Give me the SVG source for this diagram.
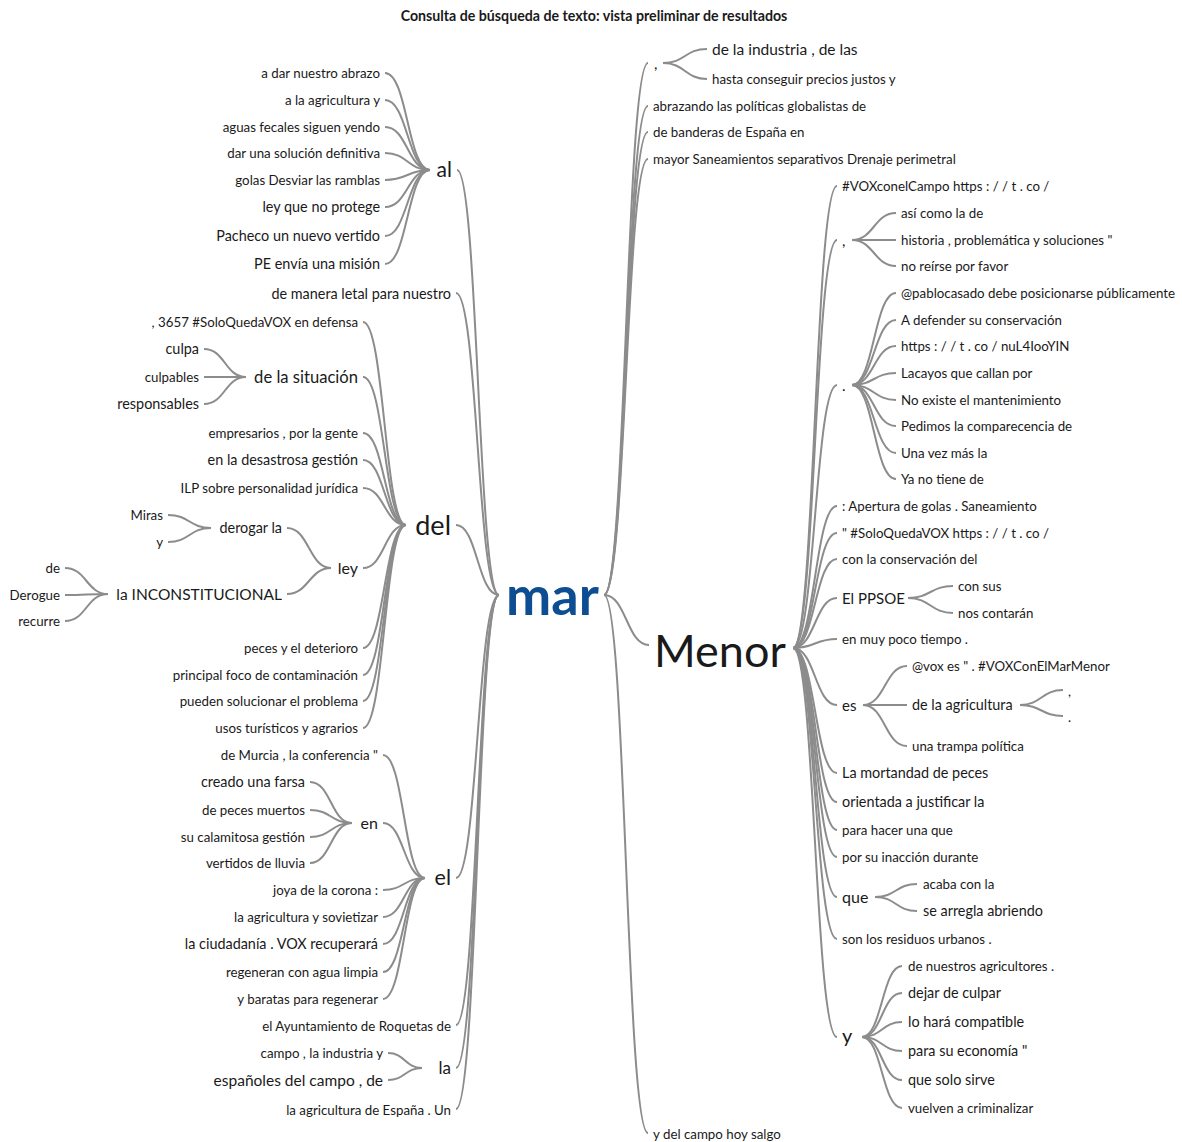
<svg xmlns="http://www.w3.org/2000/svg" width="1182" height="1142" viewBox="0 0 1182 1142">
<style>
text { font-family: Lato, "Noto Sans", "Liberation Sans", sans-serif; fill: #1a1a1a; }
.e { text-anchor: end; }
.s12 { font-size: 13.3px; }
.s125 { font-size: 13.3px; }
.s13 { font-size: 14.4px; }
.s135 { font-size: 14.4px; }
.s14 { font-size: 14.4px; }
.s15 { font-size: 15px; }
.s155 { font-size: 15.5px; }
.s16 { font-size: 16px; }
.s20 { font-size: 20px; }
.title { font-size: 14.2px; font-weight: bold; text-anchor: middle; }
#connectors path { fill: none; stroke: #8c8c8c; stroke-width: 2; }
</style>
<rect width="1182" height="1142" fill="#ffffff"/>
<text class="title" x="594" y="21">Consulta de búsqueda de texto: vista preliminar de resultados</text>
<g id="connectors">
<path d="M457 170 C478 170 478 595 499 595"/>
<path d="M456 293 C477.5 293 477.5 595 499 595"/>
<path d="M456 525 C477.5 525 477.5 595 499 595"/>
<path d="M456 878 C477.5 878 477.5 595 499 595"/>
<path d="M456 1025 C477.5 1025 477.5 595 499 595"/>
<path d="M456 1068 C477.5 1068 477.5 595 499 595"/>
<path d="M456 1109 C477.5 1109 477.5 595 499 595"/>
<path d="M385 73 C407.5 73 407.5 170 430 170"/>
<path d="M385 100 C407.5 100 407.5 170 430 170"/>
<path d="M385 127 C407.5 127 407.5 170 430 170"/>
<path d="M385 153 C407.5 153 407.5 170 430 170"/>
<path d="M385 180 C407.5 180 407.5 170 430 170"/>
<path d="M385 207 C407.5 207 407.5 170 430 170"/>
<path d="M385 236 C407.5 236 407.5 170 430 170"/>
<path d="M385 264 C407.5 264 407.5 170 430 170"/>
<path d="M363 322 C384.5 322 384.5 525 406 525"/>
<path d="M363 377 C384.5 377 384.5 525 406 525"/>
<path d="M363 433 C384.5 433 384.5 525 406 525"/>
<path d="M363 460 C384.5 460 384.5 525 406 525"/>
<path d="M363 488 C384.5 488 384.5 525 406 525"/>
<path d="M363 568 C384.5 568 384.5 525 406 525"/>
<path d="M363 648 C384.5 648 384.5 525 406 525"/>
<path d="M363 675 C384.5 675 384.5 525 406 525"/>
<path d="M363 701 C384.5 701 384.5 525 406 525"/>
<path d="M363 728 C384.5 728 384.5 525 406 525"/>
<path d="M204 349 C225 349 225 377 246 377"/>
<path d="M204 377 C225 377 225 377 246 377"/>
<path d="M204 404 C225 404 225 377 246 377"/>
<path d="M287 528 C309 528 309 568 331 568"/>
<path d="M287 594 C309 594 309 568 331 568"/>
<path d="M168 515 C189.5 515 189.5 528 211 528"/>
<path d="M168 542 C189.5 542 189.5 528 211 528"/>
<path d="M65 568 C86.5 568 86.5 594 108 594"/>
<path d="M65 595 C86.5 595 86.5 594 108 594"/>
<path d="M65 621 C86.5 621 86.5 594 108 594"/>
<path d="M383 755 C404 755 404 878 425 878"/>
<path d="M383 823 C404 823 404 878 425 878"/>
<path d="M383 890 C404 890 404 878 425 878"/>
<path d="M383 917 C404 917 404 878 425 878"/>
<path d="M383 944 C404 944 404 878 425 878"/>
<path d="M383 972 C404 972 404 878 425 878"/>
<path d="M383 999 C404 999 404 878 425 878"/>
<path d="M310 782 C331 782 331 823 352 823"/>
<path d="M310 810 C331 810 331 823 352 823"/>
<path d="M310 837 C331 837 331 823 352 823"/>
<path d="M310 863 C331 863 331 823 352 823"/>
<path d="M388 1053 C405 1053 405 1068 422 1068"/>
<path d="M388 1080 C405 1080 405 1068 422 1068"/>
<path d="M604 595 C626 595 626 63 648 63"/>
<path d="M604 595 C626 595 626 106 648 106"/>
<path d="M604 595 C626 595 626 132 648 132"/>
<path d="M604 595 C626 595 626 159 648 159"/>
<path d="M604 595 C626.5 595 626.5 645 649 645"/>
<path d="M604 595 C626 595 626 1133 648 1133"/>
<path d="M663 63 C685 63 685 49 707 49"/>
<path d="M663 63 C685 63 685 79 707 79"/>
<path d="M793 648 C815 648 815 186 837 186"/>
<path d="M793 648 C815 648 815 240 837 240"/>
<path d="M793 648 C815 648 815 385 837 385"/>
<path d="M793 648 C815 648 815 506 837 506"/>
<path d="M793 648 C815 648 815 533 837 533"/>
<path d="M793 648 C815 648 815 559 837 559"/>
<path d="M793 648 C815 648 815 598 837 598"/>
<path d="M793 648 C815 648 815 639 837 639"/>
<path d="M793 648 C815 648 815 705 837 705"/>
<path d="M793 648 C815 648 815 773 837 773"/>
<path d="M793 648 C815 648 815 802 837 802"/>
<path d="M793 648 C815 648 815 830 837 830"/>
<path d="M793 648 C815 648 815 857 837 857"/>
<path d="M793 648 C815 648 815 897 837 897"/>
<path d="M793 648 C815 648 815 939 837 939"/>
<path d="M793 648 C815 648 815 1037 837 1037"/>
<path d="M852 240 C874 240 874 213 896 213"/>
<path d="M852 240 C874 240 874 240 896 240"/>
<path d="M852 240 C874 240 874 266 896 266"/>
<path d="M852 385 C874 385 874 293 896 293"/>
<path d="M852 385 C874 385 874 320 896 320"/>
<path d="M852 385 C874 385 874 346 896 346"/>
<path d="M852 385 C874 385 874 373 896 373"/>
<path d="M852 385 C874 385 874 400 896 400"/>
<path d="M852 385 C874 385 874 426 896 426"/>
<path d="M852 385 C874 385 874 453 896 453"/>
<path d="M852 385 C874 385 874 479 896 479"/>
<path d="M908 598 C930.5 598 930.5 586 953 586"/>
<path d="M908 598 C930.5 598 930.5 613 953 613"/>
<path d="M863 705 C885 705 885 666 907 666"/>
<path d="M863 705 C885 705 885 705 907 705"/>
<path d="M863 705 C885 705 885 746 907 746"/>
<path d="M1020 705 C1041.5 705 1041.5 690 1063 690"/>
<path d="M1020 705 C1041.5 705 1041.5 716 1063 716"/>
<path d="M875 897 C896 897 896 884 917 884"/>
<path d="M875 897 C896 897 896 911 917 911"/>
<path d="M862 1037 C882 1037 882 966 902 966"/>
<path d="M862 1037 C882 1037 882 993 902 993"/>
<path d="M862 1037 C882 1037 882 1022 902 1022"/>
<path d="M862 1037 C882 1037 882 1051 902 1051"/>
<path d="M862 1037 C882 1037 882 1080 902 1080"/>
<path d="M862 1037 C882 1037 882 1108 902 1108"/>
</g>
<g id="n-mar"><text x="506" y="615" style="font-size:54px;font-weight:bold;fill:#0d4d91">mar</text></g>
<g id="n-al"><text class="e" x="452" y="177" style="font-size:21px">al</text></g>
<g id="n-demanera"><text class="s13 e" x="451" y="299">de manera letal para nuestro</text></g>
<g id="n-del"><text class="e" x="451" y="535" style="font-size:27px">del</text></g>
<g id="n-el"><text class="e" x="451" y="885" style="font-size:21.5px">el</text></g>
<g id="n-elayunt"><text class="s125 e" x="451" y="1031">el Ayuntamiento de Roquetas de</text></g>
<g id="n-la"><text class="e" x="451" y="1074" style="font-size:17px">la</text></g>
<g id="n-laagric"><text class="s12 e" x="451" y="1115">la agricultura de España . Un</text></g>
<g id="n-al-1"><text class="s12 e" x="380" y="78">a dar nuestro abrazo</text></g>
<g id="n-al-2"><text class="s12 e" x="380" y="105">a la agricultura y</text></g>
<g id="n-al-3"><text class="s12 e" x="380" y="132">aguas fecales siguen yendo</text></g>
<g id="n-al-4"><text class="s12 e" x="380" y="158">dar una solución definitiva</text></g>
<g id="n-al-5"><text class="s12 e" x="380" y="185">golas Desviar las ramblas</text></g>
<g id="n-al-6"><text class="s13 e" x="380" y="212">ley que no protege</text></g>
<g id="n-al-7"><text class="s135 e" x="380" y="241">Pacheco un nuevo vertido</text></g>
<g id="n-al-8"><text class="s13 e" x="380" y="269">PE envía una misión</text></g>
<g id="n-del-1"><text class="s12 e" x="358" y="327">, 3657 #SoloQuedaVOX en defensa</text></g>
<g id="n-del-2"><text class="e" x="358" y="383" style="font-size:16.6px">de la situación</text></g>
<g id="n-del-3"><text class="s12 e" x="358" y="438">empresarios , por la gente</text></g>
<g id="n-del-4"><text class="s135 e" x="358" y="465">en la desastrosa gestión</text></g>
<g id="n-del-5"><text class="s12 e" x="358" y="493">ILP sobre personalidad jurídica</text></g>
<g id="n-del-6"><text class="s16 e" x="358" y="574">ley</text></g>
<g id="n-del-7"><text class="s12 e" x="358" y="653">peces y el deterioro</text></g>
<g id="n-del-8"><text class="s12 e" x="358" y="680">principal foco de contaminación</text></g>
<g id="n-del-9"><text class="s125 e" x="358" y="706">pueden solucionar el problema</text></g>
<g id="n-del-10"><text class="s12 e" x="358" y="733">usos turísticos y agrarios</text></g>
<g id="n-sit-1"><text class="s13 e" x="199" y="354">culpa</text></g>
<g id="n-sit-2"><text class="s12 e" x="199" y="382">culpables</text></g>
<g id="n-sit-3"><text class="s135 e" x="199" y="409">responsables</text></g>
<g id="n-ley-1"><text class="s14 e" x="282" y="533">derogar la</text></g>
<g id="n-ley-2"><text class="s155 e" x="282" y="600">la INCONSTITUCIONAL</text></g>
<g id="n-der-1"><text class="s12 e" x="163" y="520">Miras</text></g>
<g id="n-der-2"><text class="s12 e" x="163" y="547">y</text></g>
<g id="n-inc-1"><text class="s12 e" x="60" y="573">de</text></g>
<g id="n-inc-2"><text class="s125 e" x="60" y="600">Derogue</text></g>
<g id="n-inc-3"><text class="s12 e" x="60" y="626">recurre</text></g>
<g id="n-el-1"><text class="s12 e" x="378" y="760">de Murcia , la conferencia "</text></g>
<g id="n-el-2"><text class="s16 e" x="378" y="829">en</text></g>
<g id="n-el-3"><text class="s12 e" x="378" y="895">joya de la corona :</text></g>
<g id="n-el-4"><text class="s12 e" x="378" y="922">la agricultura y sovietizar</text></g>
<g id="n-el-5"><text class="s135 e" x="378" y="949">la ciudadanía . VOX recuperará</text></g>
<g id="n-el-6"><text class="s125 e" x="378" y="977">regeneran con agua limpia</text></g>
<g id="n-el-7"><text class="s125 e" x="378" y="1004">y baratas para regenerar</text></g>
<g id="n-en-1"><text class="s135 e" x="305" y="787">creado una farsa</text></g>
<g id="n-en-2"><text class="s12 e" x="305" y="815">de peces muertos</text></g>
<g id="n-en-3"><text class="s125 e" x="305" y="842">su calamitosa gestión</text></g>
<g id="n-en-4"><text class="s125 e" x="305" y="868">vertidos de lluvia</text></g>
<g id="n-la-1"><text class="s125 e" x="383" y="1058">campo , la industria y</text></g>
<g id="n-la-2"><text class="s155 e" x="383" y="1086">españoles del campo , de</text></g>
<g id="n-comma"><text class="s15" x="654" y="69">,</text></g>
<g id="n-abrazando"><text class="s12" x="653" y="111">abrazando las políticas globalistas de</text></g>
<g id="n-banderas"><text class="s125" x="653" y="137">de banderas de España en</text></g>
<g id="n-mayor"><text class="s12" x="653" y="164">mayor Saneamientos separativos Drenaje perimetral</text></g>
<g id="n-menor"><text x="654" y="667" style="font-size:45px">Menor</text></g>
<g id="n-ydel"><text class="s125" x="653" y="1139">y del campo hoy salgo</text></g>
<g id="n-comma-1"><text class="s155" x="712" y="55">de la industria , de las</text></g>
<g id="n-comma-2"><text class="s12" x="712" y="84">hasta conseguir precios justos y</text></g>
<g id="n-m-1"><text class="s12" x="842" y="191">#VOXconelCampo https : / / t . co /</text></g>
<g id="n-m-2"><text class="s15" x="842" y="246">,</text></g>
<g id="n-m-3"><text class="s15" x="842" y="391">.</text></g>
<g id="n-m-4"><text class="s12" x="842" y="511">: Apertura de golas . Saneamiento</text></g>
<g id="n-m-5"><text class="s12" x="842" y="538">" #SoloQuedaVOX https : / / t . co /</text></g>
<g id="n-m-6"><text class="s125" x="842" y="564">con la conservación del</text></g>
<g id="n-m-7"><text class="s15" x="842" y="604">El PPSOE</text></g>
<g id="n-m-8"><text class="s125" x="842" y="644">en muy poco tiempo .</text></g>
<g id="n-m-9"><text class="s15" x="842" y="711">es</text></g>
<g id="n-m-10"><text class="s14" x="842" y="778">La mortandad de peces</text></g>
<g id="n-m-11"><text class="s135" x="842" y="807">orientada a justificar la</text></g>
<g id="n-m-12"><text class="s125" x="842" y="835">para hacer una que</text></g>
<g id="n-m-13"><text class="s125" x="842" y="862">por su inacción durante</text></g>
<g id="n-m-14"><text class="s16" x="842" y="903">que</text></g>
<g id="n-m-15"><text class="s125" x="842" y="944">son los residuos urbanos .</text></g>
<g id="n-m-16"><text class="s20" x="842" y="1043">y</text></g>
<g id="n-mc-1"><text class="s12" x="901" y="218">así como la de</text></g>
<g id="n-mc-2"><text class="s12" x="901" y="245">historia , problemática y soluciones "</text></g>
<g id="n-mc-3"><text class="s12" x="901" y="271">no reírse por favor</text></g>
<g id="n-mp-1"><text class="s12" x="901" y="298">@pablocasado debe posicionarse públicamente</text></g>
<g id="n-mp-2"><text class="s125" x="901" y="325">A defender su conservación</text></g>
<g id="n-mp-3"><text class="s12" x="901" y="351">https : / / t . co / nuL4IooYIN</text></g>
<g id="n-mp-4"><text class="s125" x="901" y="378">Lacayos que callan por</text></g>
<g id="n-mp-5"><text class="s125" x="901" y="405">No existe el mantenimiento</text></g>
<g id="n-mp-6"><text class="s125" x="901" y="431">Pedimos la comparecencia de</text></g>
<g id="n-mp-7"><text class="s125" x="901" y="458">Una vez más la</text></g>
<g id="n-mp-8"><text class="s12" x="901" y="484">Ya no tiene de</text></g>
<g id="n-pp-1"><text class="s125" x="958" y="591">con sus</text></g>
<g id="n-pp-2"><text class="s125" x="958" y="618">nos contarán</text></g>
<g id="n-es-1"><text class="s12" x="912" y="671">@vox es " . #VOXConElMarMenor</text></g>
<g id="n-es-2"><text class="s14" x="912" y="710">de la agricultura</text></g>
<g id="n-es-3"><text class="s125" x="912" y="751">una trampa política</text></g>
<g id="n-ag-1"><text class="s12" x="1068" y="696">,</text></g>
<g id="n-ag-2"><text class="s12" x="1068" y="722">.</text></g>
<g id="n-que-1"><text class="s125" x="923" y="889">acaba con la</text></g>
<g id="n-que-2"><text class="s14" x="923" y="916">se arregla abriendo</text></g>
<g id="n-y-1"><text class="s125" x="908" y="971">de nuestros agricultores .</text></g>
<g id="n-y-2"><text class="s14" x="908" y="998">dejar de culpar</text></g>
<g id="n-y-3"><text class="s14" x="908" y="1027">lo hará compatible</text></g>
<g id="n-y-4"><text class="s135" x="908" y="1056">para su economía "</text></g>
<g id="n-y-5"><text class="s14" x="908" y="1085">que solo sirve</text></g>
<g id="n-y-6"><text class="s125" x="908" y="1113">vuelven a criminalizar</text></g>
</svg>
